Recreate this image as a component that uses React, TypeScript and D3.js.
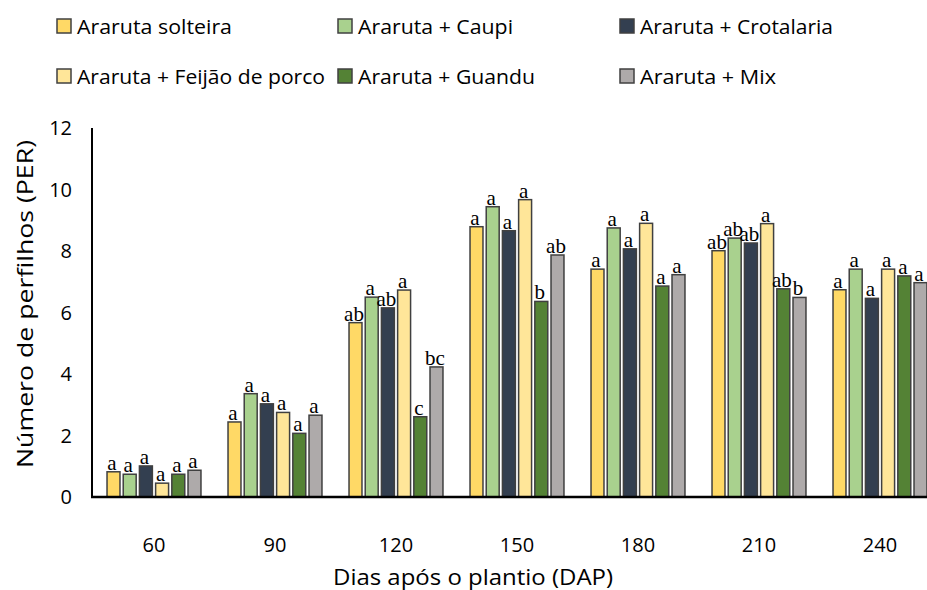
import React from "react";
import * as d3 from "d3";

const categories = ["60", "90", "120", "150", "180", "210", "240"];
const seriesNames = [
  "Araruta solteira",
  "Araruta + Caupi",
  "Araruta + Crotalaria",
  "Araruta + Feijão de porco",
  "Araruta + Guandu",
  "Araruta + Mix",
];
const colors = ["#FFD966", "#A9D18E", "#333F50", "#FFE699", "#548235", "#AEAAAA"];

const solteira = [0.82, 2.44, 5.67, 8.79, 7.41, 8.01, 6.74];
const caupi = [0.74, 3.36, 6.5, 9.44, 8.75, 8.42, 7.41];
const crotalaria = [1.01, 3.03, 6.15, 8.66, 8.07, 8.26, 6.46];
const feijao = [0.45, 2.75, 6.73, 9.67, 8.9, 8.89, 7.41];
const guandu = [0.74, 2.07, 2.61, 6.36, 6.86, 6.77, 7.19];
const mix = [0.87, 2.66, 4.23, 7.87, 7.23, 6.49, 6.97];
const values = [solteira, caupi, crotalaria, feijao, guandu, mix];

const lSolteira = ["a", "a", "ab", "a", "a", "ab", "a"];
const lCaupi = ["a", "a", "a", "a", "a", "ab", "a"];
const lCrotalaria = ["a", "a", "ab", "a", "a", "ab", "a"];
const lFeijao = ["a", "a", "a", "a", "a", "a", "a"];
const lGuandu = ["a", "a", "c", "b", "a", "ab", "a"];
const lMix = ["a", "a", "bc", "ab", "a", "b", "a"];
const letters = [lSolteira, lCaupi, lCrotalaria, lFeijao, lGuandu, lMix];

const yTicks = [0, 2, 4, 6, 8, 10, 12];

const W = 927;
const H = 590;
const sans = "'Open Sans', 'DejaVu Sans', sans-serif";

export default function App() {
  const x = d3.scaleBand<string>().domain(categories).range([93.5, 93.5 + 7 * 121]).padding(0);
  const xi = d3
    .scaleBand<number>()
    .domain(d3.range(seriesNames.length))
    .range([0, x.bandwidth()])
    .paddingInner(0.2)
    .paddingOuter(0.835);
  const y = d3.scaleLinear().domain([0, 12]).range([497, 128]);

  const legendX = [57, 338, 620];
  const legendY = [19, 69];
  const legendW = [155, 155, 193, 248, 177, 136];

  return (
    <svg width={W} height={H} style={{ display: "block", position: "absolute", left: 0, top: 0 }}>
      <rect width={W} height={H} fill="#fff" />
      {/* legend */}
      {seriesNames.map((s, i) => {
        const lx = legendX[i % 3];
        const ly = legendY[Math.floor(i / 3)];
        return (
          <g key={s}>
            <rect x={lx} y={ly} width={14} height={14} fill={colors[i]} stroke="#404040" strokeWidth={1.5} />
            <text
              x={lx + 20}
              y={ly + 15}
              fontFamily={sans}
              fontSize={20}
              fill="#000"
              textLength={legendW[i]}
              lengthAdjust="spacingAndGlyphs"
            >
              {s}
            </text>
          </g>
        );
      })}
      {/* bars */}
      {values.map((vals, si) =>
        vals.map((v, ci) => {
          const bx = (x(categories[ci]) as number) + (xi(si) as number);
          const bw = xi.bandwidth();
          return (
            <g key={`${si}-${ci}`}>
              <rect
                x={bx}
                y={y(v)}
                width={bw}
                height={y(0) - y(v)}
                fill={colors[si]}
                stroke="#404040"
                strokeWidth={1.5}
              />
              <text
                x={bx + bw / 2 - 1.5}
                y={y(v) - 2}
                textAnchor="middle"
                fontFamily="'Liberation Serif', 'Times New Roman', serif"
                fontSize={21}
                fill="#000"
              >
                {letters[si][ci]}
              </text>
            </g>
          );
        })
      )}
      {/* axes */}
      <line x1={92} x2={92} y1={128} y2={497} stroke="#000" strokeWidth={2} />
      <line x1={91} x2={W} y1={497} y2={497} stroke="#000" strokeWidth={2.5} />
      {yTicks.map((t) => (
        <text
          key={t}
          x={72}
          y={y(t)}
          dy="0.35em"
          textAnchor="end"
          fontFamily={sans}
          fontSize={20}
          fill="#000"
        >
          {t}
        </text>
      ))}
      {categories.map((c) => (
        <text
          key={c}
          x={(x(c) as number) + x.bandwidth() / 2}
          y={552}
          textAnchor="middle"
          fontFamily={sans}
          fontSize={20}
          fill="#000"
        >
          {c}
        </text>
      ))}
      <text
        x={473}
        y={585}
        textAnchor="middle"
        fontFamily={sans}
        fontSize={22}
        fill="#000"
        textLength={280}
        lengthAdjust="spacingAndGlyphs"
      >
        Dias após o plantio (DAP)
      </text>
      <text
        transform="translate(33,304) rotate(-90)"
        textAnchor="middle"
        fontFamily={sans}
        fontSize={22}
        fill="#000"
        textLength={328}
        lengthAdjust="spacingAndGlyphs"
      >
        Número de perfilhos (PER)
      </text>
    </svg>
  );
}
